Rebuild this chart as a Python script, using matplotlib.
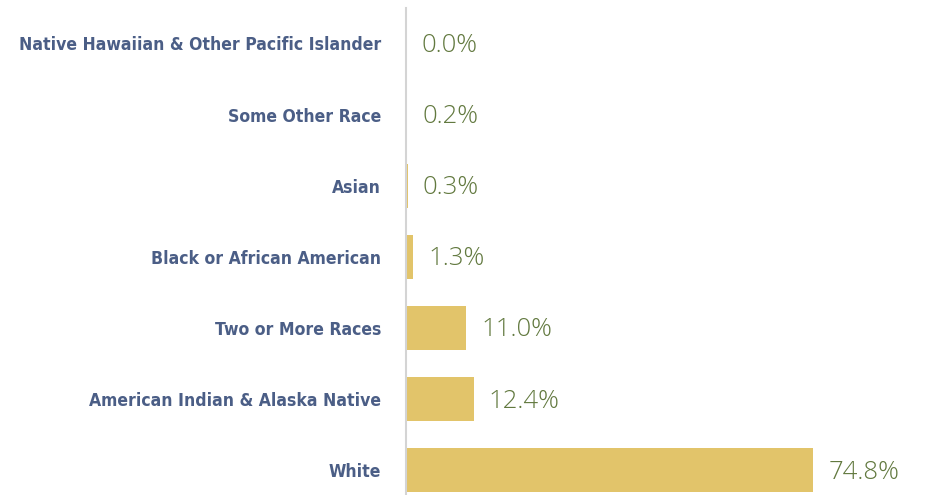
import matplotlib
matplotlib.use("Agg")
import matplotlib.pyplot as plt

# data (bottom row first)
races = ['White', 'American Indian & Alaska Native', 'Two or More Races',
         'Black or African American', 'Asian', 'Some Other Race',
         'Native Hawaiian & Other Pacific Islander']
pct = [74.8, 12.4, 11.0, 1.3, 0.3, 0.2, 0.0]

bar_col = '#E2C46A'
lab_col = '#4B5E86'
val_col = '#62793F'

fig = plt.figure(figsize=(9.3, 4.95), dpi=100)
ax = fig.add_axes([0.4366, 0.0, 0.5634, 0.984])

ypos = list(range(len(races)))
ax.barh(ypos, pct, height=0.62, color=bar_col, edgecolor='none')

for y, v in zip(ypos, pct):
    ax.annotate(f'{v:.1f}%', (v, y), xytext=(11, -1.5), textcoords='offset points',
                va='center', ha='left', fontsize=18.5, color=val_col,
                family=['Open Sans', 'DejaVu Sans'], fontweight='light')

ax.set_yticks(ypos)
ax.set_yticklabels(races, family=['DejaVu Sans'], fontstretch='condensed',
                   fontweight='bold', fontsize=12.6, color=lab_col)
ax.tick_params(axis='y', length=0, pad=18)
ax.set_xticks([])
ax.set_xlim(0, 96.3)
ax.set_ylim(-0.35, 6.5)

for s in ['top', 'right', 'bottom']:
    ax.spines[s].set_visible(False)
ax.spines['left'].set_color('#D4D4D4')
ax.spines['left'].set_linewidth(1.5)

plt.savefig('out.png', dpi=100)
